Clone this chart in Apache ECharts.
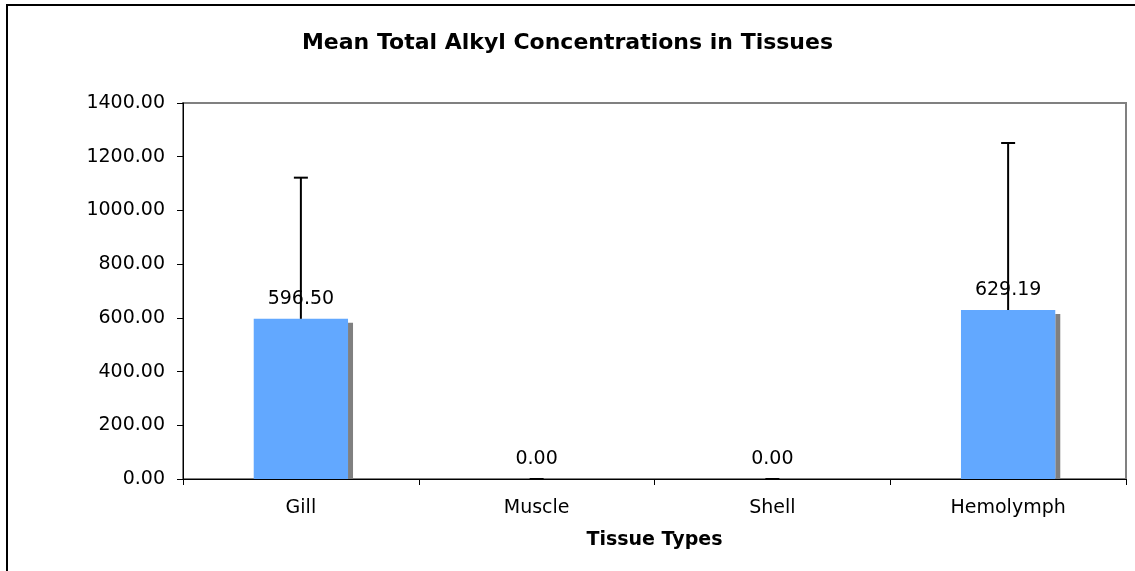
<!DOCTYPE html>
<html><head><meta charset="utf-8">
<script src="https://cdn.jsdelivr.net/npm/echarts@6/dist/echarts.min.js"></script>
<style>html,body{margin:0;padding:0;background:#fff}#c{width:1135px;height:571px}
#frame{position:absolute;left:6px;top:4px;width:1200px;height:700px;border-left:2px solid #000;border-top:2px solid #000;pointer-events:none}</style>
</head><body><div id="c"></div><div id="frame"></div>
<script>
var categories = ['Gill', 'Muscle', 'Shell', 'Hemolymph'];
var means = [596.50, 0.00, 0.00, 629.19];
var errorTops = [1122, 0, 0, 1251];
var yTicks = [0, 200, 400, 600, 800, 1000, 1200, 1400];

var font = 'DejaVu Sans, Verdana, sans-serif';
var chart = echarts.init(document.getElementById('c'), null, {renderer: 'canvas'});
chart.setOption({
  animation: false,
  backgroundColor: '#fff',
  title: {text: 'Mean Total Alkyl Concentrations in Tissues', left: 'center', top: 27,
    textStyle: {fontFamily: font, fontSize: 22, fontWeight: 'bold', color: '#000'}},
  grid: {left: 183, right: 9, top: 103, bottom: 92, show: true, borderColor: '#808080', borderWidth: 2},
  xAxis: {type: 'category', data: categories, name: 'Tissue Types', nameLocation: 'middle', nameGap: 52,
    nameTextStyle: {fontFamily: font, fontSize: 19, fontWeight: 'bold', color: '#000'},
    axisLine: {lineStyle: {color: '#000', width: 1}},
    axisTick: {show: true, length: 6, lineStyle: {color: '#000'}},
    axisLabel: {fontFamily: font, fontSize: 19, color: '#000', margin: 20}},
  yAxis: {type: 'value', min: yTicks[0], max: yTicks[yTicks.length - 1], interval: 200,
    axisLine: {show: true, lineStyle: {color: '#000', width: 1}},
    axisTick: {show: true, length: 6, lineStyle: {color: '#000'}},
    splitLine: {show: false},
    axisLabel: {fontFamily: font, fontSize: 19, color: '#000', margin: 18,
      formatter: function (v) { return v.toFixed(2); }}},
  series: [
    {type: 'custom', z: 1, clip: false,
     renderItem: function (params, api) {
       var top = api.coord([api.value(0), api.value(1)]);
       var base = api.coord([api.value(0), 0]);
       var w = api.size([1, 0])[0] * 0.4;
       var h = base[1] - top[1] - 4;
       if (h <= 0) return null;
       return {type: 'rect', shape: {x: top[0] + w / 2, y: top[1] + 4, width: 5, height: h},
         style: {fill: '#808080'}};
     },
     data: means.map(function (v, i) { return [i, v]; })},
    {type: 'bar', z: 2, data: means, barWidth: '40%',
     itemStyle: {color: '#62A8FF'},
     label: {show: true, position: 'top', distance: 10, fontFamily: font, fontSize: 19, color: '#000',
       formatter: function (p) { return p.value.toFixed(2); }}},
    {type: 'custom', z: 3, clip: false,
     renderItem: function (params, api) {
       var x = api.value(0);
       var lo = api.coord([x, api.value(1)]);
       var hi = api.coord([x, api.value(2)]);
       return {type: 'group', children: [
         {type: 'line', shape: {x1: lo[0], y1: lo[1], x2: hi[0], y2: hi[1]}, style: {stroke: '#000', lineWidth: 2}},
         {type: 'line', shape: {x1: hi[0] - 7, y1: hi[1], x2: hi[0] + 7, y2: hi[1]}, style: {stroke: '#000', lineWidth: 2}}
       ]};
     },
     data: means.map(function (v, i) { return [i, v, errorTops[i]]; })}
  ]
});
</script></body></html>
